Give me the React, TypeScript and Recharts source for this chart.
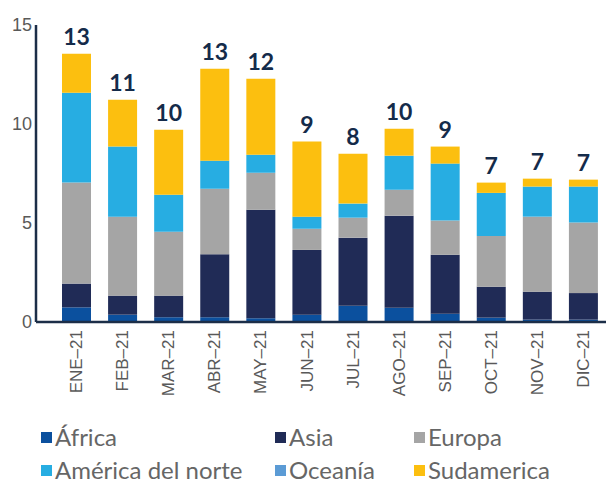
import React from "react";
import { BarChart, Bar, XAxis, YAxis, LabelList } from "recharts";

const months = [
  "ENE–21", "FEB–21", "MAR–21", "ABR–21", "MAY–21", "JUN–21",
  "JUL–21", "AGO–21", "SEP–21", "OCT–21", "NOV–21", "DIC–21",
];
const africa = [0.74, 0.37, 0.24, 0.24, 0.19, 0.37, 0.82, 0.72, 0.42, 0.22, 0.12, 0.12];
const asia = [1.2, 0.96, 1.09, 3.18, 5.48, 3.27, 3.44, 4.65, 2.98, 1.56, 1.41, 1.34];
const europa = [5.11, 3.99, 3.23, 3.31, 1.87, 1.07, 1.01, 1.31, 1.72, 2.56, 3.79, 3.56];
const norte = [4.53, 3.54, 1.87, 1.42, 0.91, 0.61, 0.71, 1.72, 2.88, 2.18, 1.52, 1.82];
const oceania = [0, 0, 0, 0, 0, 0, 0, 0, 0, 0, 0, 0];
const sudamerica = [1.97, 2.37, 3.28, 4.64, 3.84, 3.79, 2.52, 1.36, 0.86, 0.52, 0.4, 0.35];
const totals = [13, 11, 10, 13, 12, 9, 8, 10, 9, 7, 7, 7];
const yTicks = [0, 5, 10, 15];

const SERIES = [
  { key: "africa", name: "África", color: "#0b509e" },
  { key: "asia", name: "Asia", color: "#202b56" },
  { key: "europa", name: "Europa", color: "#a5a5a5" },
  { key: "norte", name: "América del norte", color: "#27ade2" },
  { key: "oceania", name: "Oceanía", color: "#5b9bd5" },
  { key: "sudamerica", name: "Sudamerica", color: "#fcbf0f" },
];

const data = months.map((m, i) => ({
  month: m,
  africa: africa[i],
  asia: asia[i],
  europa: europa[i],
  norte: norte[i],
  oceania: oceania[i],
  sudamerica: sudamerica[i],
  total: totals[i],
}));

const AXIS_COLOR = "#1c2e48";
const TICK_FONT = "'Liberation Sans', Arial, sans-serif";

function MonthTick({ x, y, payload }: any) {
  return (
    <text
      x={x}
      y={y}
      dy="0.36em"
      transform={`rotate(-90 ${x} ${y})`}
      textAnchor="end"
      fill="#595959"
      fontSize={17}
      fontFamily={TICK_FONT}
    >
      {payload.value}
    </text>
  );
}

// column x offsets
const LEGEND_COLS = [41, 275, 414];

function ChartLegend() {
  return (
    <div style={{ position: "absolute", left: 0, top: 425, width: 606 }}>
      {SERIES.map((s, i) => (
        <div
          key={s.key}
          style={{
            position: "absolute",
            left: LEGEND_COLS[i % 3],
            top: Math.floor(i / 3) * 33.3,
            height: 24,
            display: "flex",
            alignItems: "center",
            whiteSpace: "nowrap",
            fontFamily: "Lato, sans-serif",
            fontSize: 24,
            lineHeight: "24px",
            color: "#666666",
          }}
        >
          <span
            style={{
              display: "inline-block",
              width: 11,
              height: 11,
              background: s.color,
              marginRight: 3,
            }}
          />
          {s.name}
        </div>
      ))}
    </div>
  );
}

export default function App() {
  return (
    <div
      style={{
        position: "absolute",
        left: 0,
        top: 0,
        width: 606,
        height: 483,
        background: "#ffffff",
        overflow: "hidden",
      }}
    >
      <BarChart
        width={606}
        height={420}
        data={data}
        margin={{ top: 25, right: 0, left: 0, bottom: 0 }}
      >
        <XAxis
          dataKey="month"
          height={98}
          padding={{ left: 17, right: 0 }}
          axisLine={{ stroke: AXIS_COLOR, strokeWidth: 2.5 }}
          tickLine={false}
          tickSize={0}
          tickMargin={8}
          interval={0}
          tick={<MonthTick />}
        />
        <YAxis
          width={36}
          domain={[0, 15]}
          ticks={yTicks}
          axisLine={{ stroke: AXIS_COLOR, strokeWidth: 2.5 }}
          tickLine={false}
          tickSize={0}
          tickMargin={4}
          tick={{ fill: "#595959", fontSize: 18, fontFamily: TICK_FONT }}
        />
        {SERIES.map((s, i) => (
          <Bar
            key={s.key}
            dataKey={s.key}
            name={s.name}
            stackId="a"
            fill={s.color}
            barSize={29}
            isAnimationActive={false}
          >
            {i === SERIES.length - 1 && (
              <LabelList
                dataKey="total"
                position="top"
                offset={9}
                fill="#142b4a"
                fontSize={23}
                fontWeight={700}
                fontFamily="Lato, sans-serif"
              />
            )}
          </Bar>
        ))}
      </BarChart>
      <ChartLegend />
    </div>
  );
}
